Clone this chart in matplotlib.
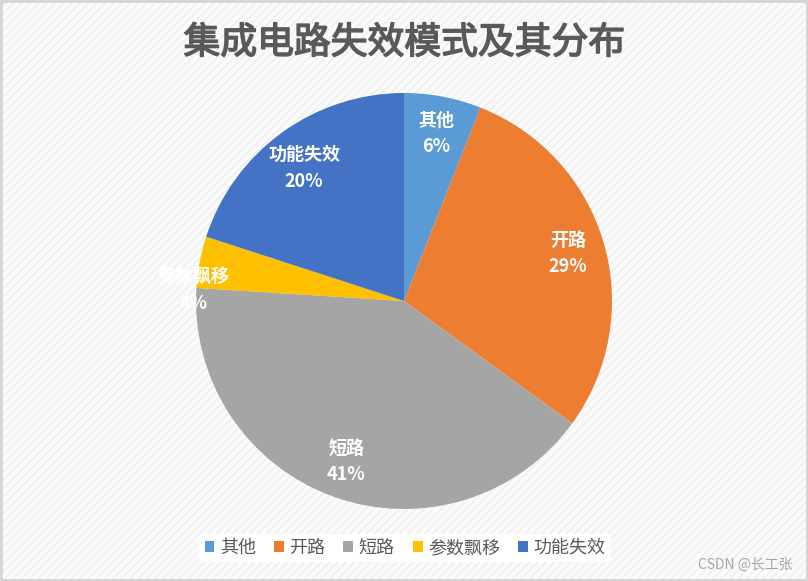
import matplotlib
matplotlib.use("Agg")
import matplotlib.pyplot as plt
from matplotlib.patches import Rectangle
import matplotlib.patheffects as pe

plt.rcParams['font.family'] = ['Noto Sans CJK SC', 'DejaVu Sans']
plt.rcParams['hatch.linewidth'] = 1.2

title = "集成电路失效模式及其分布"
categories = ["其他", "开路", "短路", "参数飘移", "功能失效"]
values = [6, 29, 41, 4, 20]
colors = ["#5B9BD5", "#ED7D31", "#A5A5A5", "#FFC000", "#4472C4"]

W, H = 808, 581
fig = plt.figure(figsize=(W / 100, H / 100), dpi=100)
fig.patch.set_facecolor("white")

# striped background
bg = Rectangle((0, 0), 1, 1, transform=fig.transFigure, facecolor="#fbfbfb",
               edgecolor="#efefef", hatch="////", linewidth=0, zorder=-10)
fig.add_artist(bg)
border = Rectangle((0.001, 0.001), 0.998, 0.997, transform=fig.transFigure,
                   facecolor="none", edgecolor="#d4d4d4", linewidth=2, zorder=10)
fig.add_artist(border)

cx, cy, r = 404, 301, 208
ax = fig.add_axes([(cx - r) / W, 1 - (cy + r) / H, 2 * r / W, 2 * r / H])
ax.set_facecolor("none")

total = sum(values)
wedges, texts, autotexts = ax.pie(
    values, colors=colors, startangle=90, counterclock=False,
    autopct=lambda p: "", pctdistance=0.82, radius=1.0,
    wedgeprops=dict(linewidth=0))
for i, at in enumerate(autotexts):
    at.set_text(f"{categories[i]}\n{round(values[i] / total * 100)}%")
    at.set_color("white")
    at.set_fontsize(13)
    at.set_fontweight("bold")
    at.set_linespacing(1.5)
    at.set_ha("center")
    at.set_va("center")
# small slice label pushed outward
autotexts[3].set_position((-1.01, 0.05))
autotexts[4].set_position((-0.48, 0.64))
ax.set_xlim(-1, 1)
ax.set_ylim(-1, 1)
ax.set_aspect("equal")
ax.axis("off")

fig.text(404 / W, 1 - 43 / H, title, ha="center", va="center",
         fontsize=26.5, fontweight="normal", color="#595959",
         path_effects=[pe.withStroke(linewidth=1.1, foreground="#595959")])

leg = fig.legend(wedges, categories, loc="center", bbox_to_anchor=(405 / W, 1 - 548 / H),
                 ncol=5, frameon=True, fontsize=13, handlelength=0.55, handleheight=0.55,
                 handletextpad=0.3, columnspacing=1.0, borderpad=0.3)
leg.get_frame().set_facecolor("white")
leg.get_frame().set_edgecolor("none")
leg.get_frame().set_alpha(1)
for t in leg.get_texts():
    t.set_color("#595959")

fig.text(792 / W, 1 - 565 / H, "CSDN @长工张", ha="right", va="center",
         fontsize=10, color="#a6a6a6")

fig.savefig("out.png", dpi=100)
